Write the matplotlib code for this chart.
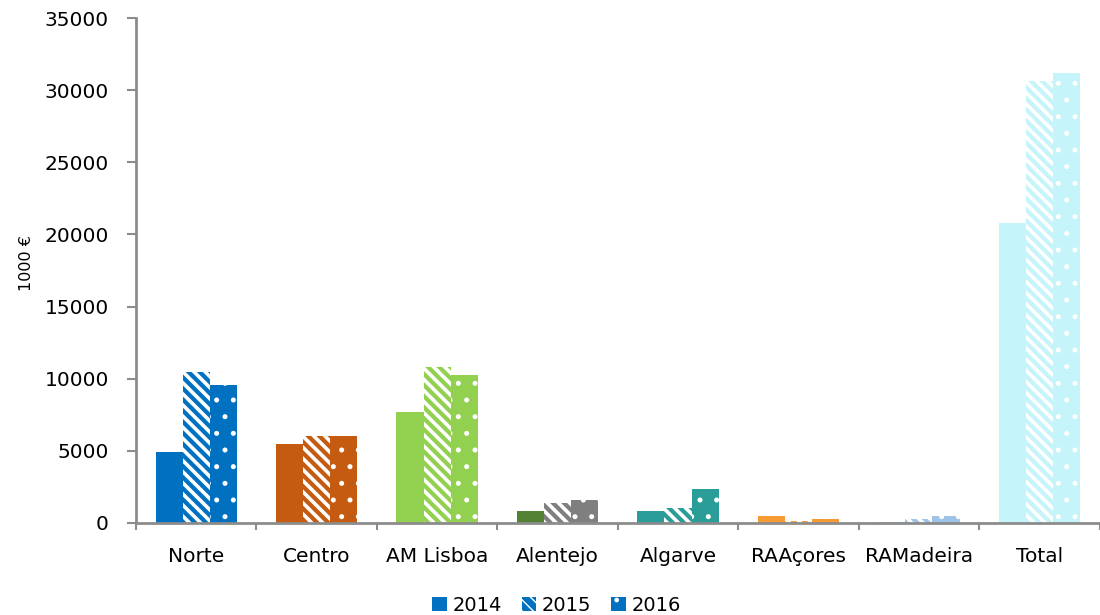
import matplotlib.pyplot as plt
import numpy as np
from matplotlib.patches import Patch

regions = ['Norte', 'Centro', 'AM Lisboa', 'Alentejo', 'Algarve', 'RAAçores', 'RAMadeira', 'Total']
years = ['2014', '2015', '2016']
v2014 = [4950, 5470, 7700, 830, 830, 490, 80, 20800]
v2015 = [10460, 6030, 10810, 1390, 1040, 150, 280, 30630]
v2016 = [9560, 6030, 10260, 1590, 2360, 280, 490, 31200]

# one colour per region; Alentejo 2015/2016 are drawn in grey
col2014 = ['#0070C0', '#C55A11', '#92D050', '#548235', '#2A9D99', '#F79A33', '#9DC3E6', '#C5F4FA']
col2015 = ['#0070C0', '#C55A11', '#92D050', '#7F7F7F', '#2A9D99', '#F79A33', '#9DC3E6', '#C5F4FA']
col2016 = ['#0070C0', '#C55A11', '#92D050', '#7F7F7F', '#2A9D99', '#F79A33', '#9DC3E6', '#C5F4FA']

plt.rcParams['font.family'] = ['DejaVu Sans']
axcol = '#8C8C8C'
stripes = '\\\\\\'
dots = '.'
lw_stripes = 2.6
lw_dots = 1.2

fig = plt.figure(figsize=(11, 6.15), dpi=100)
ax = fig.add_axes([0.1236, 0.1496, 0.876, 0.8211])

x = np.arange(len(regions))
w = 0.225

ax.bar(x - w, v2014, w, color=col2014, linewidth=0)
with plt.rc_context({'hatch.linewidth': lw_stripes}):
    ax.bar(x, v2015, w, color=col2015, edgecolor='white', linewidth=0, hatch=stripes)
with plt.rc_context({'hatch.linewidth': lw_dots}):
    ax.bar(x + w, v2016, w, color=col2016, edgecolor='white', linewidth=0, hatch=dots)

ax.set_xlim(-0.5, len(regions) - 0.5)
ax.set_ylim(0, 35000)
ax.set_yticks(np.arange(0, 35001, 5000))
ax.set_xticks(x)
ax.set_xticklabels(regions)
ax.set_xticks(np.arange(-0.5, len(regions), 1), minor=True)

for s in ['top', 'right']:
    ax.spines[s].set_visible(False)
for s in ['left', 'bottom']:
    ax.spines[s].set_color(axcol)
    ax.spines[s].set_linewidth(2)

ax.tick_params(axis='y', length=6.5, width=1.5, color=axcol, labelsize=14.5, pad=13)
ax.tick_params(axis='x', which='major', length=0, labelsize=14.5, pad=17)
ax.tick_params(axis='x', which='minor', length=5, width=1.5, color=axcol)

ax.set_ylabel('1000 €', fontsize=11.5)
ax.yaxis.set_label_coords(-0.106, 0.515)

handles = []
with plt.rc_context({'hatch.linewidth': lw_stripes}):
    handles.append(Patch(facecolor='#0070C0', linewidth=0))
    handles.append(Patch(facecolor='#0070C0', edgecolor='white', linewidth=0, hatch=stripes))
with plt.rc_context({'hatch.linewidth': lw_dots}):
    handles.append(Patch(facecolor='#0070C0', edgecolor='white', linewidth=0, hatch=dots))
fig.legend(handles, years, loc='center', bbox_to_anchor=(0.506, 0.016), ncol=3, frameon=False,
           fontsize=14, handlelength=0.75, handleheight=0.75, handletextpad=0.3, columnspacing=1.0)

plt.savefig('out.png', dpi=100)
